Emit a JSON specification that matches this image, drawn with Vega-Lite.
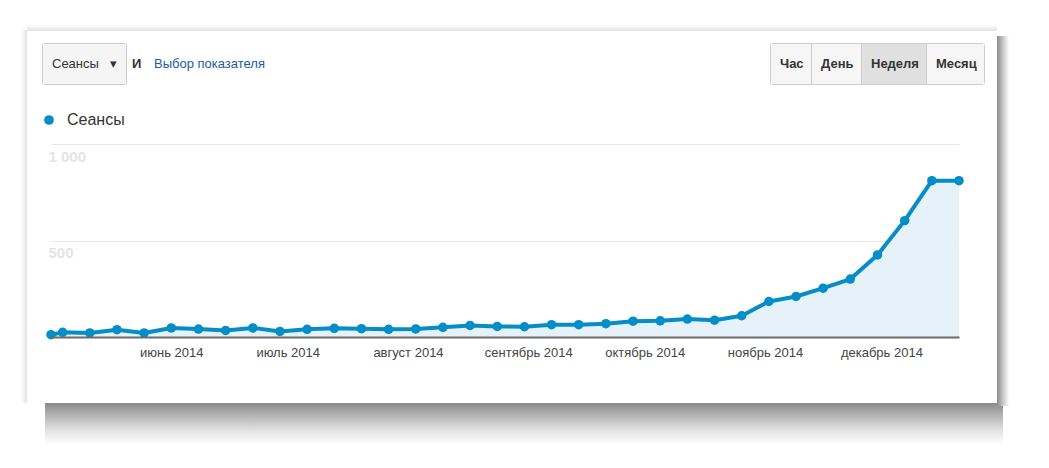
{
  "$schema": "https://vega.github.io/schema/vega-lite/v6.json",
  "width": 908,
  "height": 193,
  "autosize": {"type": "none"},
  "padding": {"left": 51, "top": 144, "right": 90, "bottom": 131},
  "background": "#ffffff",
  "config": {"view": {"stroke": null}, "font": "Liberation Sans"},
  "resolve": {
    "scale": {"color": "independent", "shape": "independent"},
    "legend": {"color": "independent", "shape": "independent"}
  },
  "layer": [
    {
      "data": {"values": [
        {"date": "2014-05-01", "sessions": 12},
        {"date": "2014-05-04", "sessions": 24},
        {"date": "2014-05-11", "sessions": 21},
        {"date": "2014-05-18", "sessions": 38},
        {"date": "2014-05-25", "sessions": 21},
        {"date": "2014-06-01", "sessions": 47},
        {"date": "2014-06-08", "sessions": 41},
        {"date": "2014-06-15", "sessions": 34},
        {"date": "2014-06-22", "sessions": 47},
        {"date": "2014-06-29", "sessions": 29},
        {"date": "2014-07-06", "sessions": 40},
        {"date": "2014-07-13", "sessions": 45},
        {"date": "2014-07-20", "sessions": 43},
        {"date": "2014-07-27", "sessions": 40},
        {"date": "2014-08-03", "sessions": 42},
        {"date": "2014-08-10", "sessions": 50},
        {"date": "2014-08-17", "sessions": 60},
        {"date": "2014-08-24", "sessions": 55},
        {"date": "2014-08-31", "sessions": 53},
        {"date": "2014-09-07", "sessions": 64},
        {"date": "2014-09-14", "sessions": 64},
        {"date": "2014-09-21", "sessions": 69},
        {"date": "2014-09-28", "sessions": 82},
        {"date": "2014-10-05", "sessions": 84},
        {"date": "2014-10-12", "sessions": 93},
        {"date": "2014-10-19", "sessions": 87},
        {"date": "2014-10-26", "sessions": 110},
        {"date": "2014-11-02", "sessions": 184},
        {"date": "2014-11-09", "sessions": 210},
        {"date": "2014-11-16", "sessions": 253},
        {"date": "2014-11-23", "sessions": 300},
        {"date": "2014-11-30", "sessions": 425},
        {"date": "2014-12-07", "sessions": 603},
        {"date": "2014-12-14", "sessions": 810},
        {"date": "2014-12-21", "sessions": 810}
      ]},
      "encoding": {
        "x": {
          "field": "date",
          "type": "temporal",
          "scale": {"type": "utc", "domain": [{"year": 2014, "month": 5, "date": 1, "utc": true}, {"year": 2014, "month": 12, "date": 21, "utc": true}]},
          "axis": {
            "title": null,
            "values": [
              {"year": 2014, "month": 6, "date": 1, "utc": true},
              {"year": 2014, "month": 7, "date": 1, "utc": true},
              {"year": 2014, "month": 8, "date": 1, "utc": true},
              {"year": 2014, "month": 9, "date": 1, "utc": true},
              {"year": 2014, "month": 10, "date": 1, "utc": true},
              {"year": 2014, "month": 11, "date": 1, "utc": true},
              {"year": 2014, "month": 12, "date": 1, "utc": true}
            ],
            "labelExpr": "['январь','февраль','март','апрель','май','июнь','июль','август','сентябрь','октябрь','ноябрь','декабрь'][utcmonth(datum.value)] + ' ' + utcyear(datum.value)",
            "grid": false,
            "ticks": false,
            "tickSize": 0,
            "domainColor": "#6b6b6b",
            "domainWidth": 2,
            "labelFont": "Liberation Sans",
            "labelFontSize": 13,
            "labelColor": "#444444",
            "labelPadding": 9,
            "labelFlush": false,
            "labelOverlap": false,
            "zindex": 1
          }
        },
        "y": {
          "field": "sessions",
          "type": "quantitative",
          "scale": {"domain": [0, 1000], "nice": false},
          "axis": {
            "title": null,
            "values": [500, 1000],
            "labelExpr": "replace(format(datum.value, ',d'), ',', ' ')",
            "domain": false,
            "ticks": false,
            "tickSize": 0,
            "grid": true,
            "gridColor": "#e8e8e8",
            "gridWidth": 1,
            "labelAlign": "left",
            "labelBaseline": "middle",
            "labelPadding": 3,
            "labelOffset": 12,
            "labelFont": "Liberation Sans",
            "labelFontSize": 15,
            "labelFontWeight": "bold",
            "labelColor": "#e4e4e4"
          }
        }
      },
      "layer": [
        {"mark": {"type": "area", "color": "#e6f2fa", "opacity": 1}},
        {"mark": {"type": "line", "color": "#058dc7", "strokeWidth": 4, "strokeJoin": "round"}},
        {
          "mark": {"type": "point", "filled": true, "size": 90, "opacity": 1},
          "encoding": {
            "color": {
              "datum": "Сеансы",
              "type": "nominal",
              "scale": {"range": ["#058dc7"]},
              "legend": {
                "orient": "none",
                "legendX": -10,
                "legendY": -32,
                "title": null,
                "padding": 0,
                "symbolType": "circle",
                "symbolSize": 95,
                "symbolStrokeWidth": 0,
                "labelFont": "Liberation Sans",
                "labelFontSize": 16,
                "labelColor": "#333333",
                "labelOffset": 10
              }
            }
          }
        }
      ]
    },
    {
      "data": {"values": [{"period": "Час"}, {"period": "День"}, {"period": "Неделя"}, {"period": "Месяц"}]},
      "transform": [{"filter": "false"}],
      "mark": {"type": "point", "filled": true, "opacity": 1},
      "encoding": {
        "color": {
          "field": "period",
          "type": "nominal",
          "scale": {"domain": ["Час", "День", "Неделя", "Месяц"], "range": ["#f6f6f6", "#f6f6f6", "#e0e0e0", "#f6f6f6"]},
          "legend": {
            "orient": "none", "legendX": 719, "legendY": -101, "title": null, "padding": 1,
            "fillColor": "#cccccc", "cornerRadius": 3,
            "direction": "horizontal", "columns": 4, "columnPadding": 1,
            "symbolSize": 1600, "symbolStrokeWidth": 0, "symbolOpacity": 1,
            "labelFont": "Liberation Sans", "labelFontSize": 13, "labelFontWeight": "bold", "labelColor": "#333333",
            "labelAlign": "left", "labelBaseline": "middle", "labelOffset": -31
          }
        },
        "shape": {
          "field": "period",
          "type": "nominal",
          "scale": {"domain": ["Час", "День", "Неделя", "Месяц"], "range": ["M-1,-1H1V1H-1Z", "M-1,-1H1.45V1H-1Z", "M-1,-1H2.2V1H-1Z", "M-1,-1H1.85V1H-1Z"]},
          "legend": {
            "orient": "none", "legendX": 719, "legendY": -101, "title": null, "padding": 1,
            "fillColor": "#cccccc", "cornerRadius": 3,
            "direction": "horizontal", "columns": 4, "columnPadding": 1,
            "symbolSize": 1600, "symbolStrokeWidth": 0, "symbolOpacity": 1,
            "labelFont": "Liberation Sans", "labelFontSize": 13, "labelFontWeight": "bold", "labelColor": "#333333",
            "labelAlign": "left", "labelBaseline": "middle", "labelOffset": -31
          }
        }
      }
    },
    {
      "data": {"values": [{"ctrl": "Сеансы\u00a0\u00a0\u00a0▾"}]},
      "transform": [{"filter": "false"}],
      "mark": {"type": "point", "filled": true, "opacity": 1, "fill": "#f5f5f5"},
      "encoding": {
        "shape": {
          "field": "ctrl",
          "type": "nominal",
          "scale": {"domain": ["Сеансы\u00a0\u00a0\u00a0▾"], "range": ["M-1,-1H3.15V1H-1Z"]},
          "legend": {
            "orient": "none", "legendX": -9, "legendY": -101, "title": null, "padding": 1,
            "fillColor": "#cccccc", "cornerRadius": 3,
            "symbolSize": 1600, "symbolStrokeWidth": 0, "symbolFillColor": "#f5f5f5", "symbolOpacity": 1,
            "labelFont": "Liberation Sans", "labelFontSize": 13, "labelColor": "#333333",
            "labelAlign": "left", "labelBaseline": "middle", "labelOffset": -31
          }
        }
      }
    },
    {
      "data": {"values": [{"word": "И"}]},
      "transform": [{"filter": "false"}],
      "mark": {"type": "point", "filled": true, "opacity": 1},
      "encoding": {
        "color": {
          "field": "word",
          "type": "nominal",
          "scale": {"domain": ["И"], "range": ["#333333"]},
          "legend": {
            "orient": "none", "legendX": 81, "legendY": -87, "title": null, "padding": 0,
            "symbolSize": 0, "symbolStrokeWidth": 0, "symbolOpacity": 0,
            "labelFont": "Liberation Sans", "labelFontSize": 13, "labelFontWeight": "bold", "labelColor": "#333333",
            "labelAlign": "left", "labelBaseline": "middle", "labelOffset": -13
          }
        }
      }
    },
    {
      "data": {"values": [{"link": "Выбор показателя"}]},
      "transform": [{"filter": "false"}],
      "mark": {"type": "point", "filled": true, "opacity": 1},
      "encoding": {
        "shape": {
          "field": "link",
          "type": "nominal",
          "scale": {"domain": ["Выбор показателя"]},
          "legend": {
            "orient": "none", "legendX": 103, "legendY": -87, "title": null, "padding": 0,
            "symbolSize": 0, "symbolStrokeWidth": 0, "symbolOpacity": 0,
            "labelFont": "Liberation Sans", "labelFontSize": 13, "labelColor": "#1d5c9c",
            "labelAlign": "left", "labelBaseline": "middle", "labelOffset": -13
          }
        }
      }
    },
    {
      "data": {"values": [{"shadow": "bottom"}]},
      "transform": [{"filter": "false"}],
      "mark": {"type": "point", "filled": true, "opacity": 1},
      "encoding": {
        "shape": {
          "field": "shadow",
          "type": "nominal",
          "scale": {"domain": ["bottom"], "range": ["M-1.05,-1.05H94.75V3.15H-1.05Z"]},
          "legend": {
            "orient": "none", "legendX": -6, "legendY": 259, "title": null, "padding": 0,
            "symbolSize": 400, "symbolStrokeWidth": 0, "symbolOpacity": 0,
            "labelExpr": "''", "labelOffset": -10.5,
            "fillColor": {"expr": "{gradient: 'linear', x1: 0, y1: 0, x2: 0, y2: 1, stops: [{offset: 0, color: '#8a8a8a'}, {offset: 0.3, color: '#b4b4b4'}, {offset: 0.65, color: '#e2e2e2'}, {offset: 1, color: '#ffffff'}]}"}
          }
        }
      }
    },
    {
      "data": {"values": [{"shadow": "right"}]},
      "transform": [{"filter": "false"}],
      "mark": {"type": "point", "filled": true, "opacity": 1},
      "encoding": {
        "shape": {
          "field": "shadow",
          "type": "nominal",
          "scale": {"domain": ["right"], "range": ["M-1.05,-1.05H0.15V35.95H-1.05Z"]},
          "legend": {
            "orient": "none", "legendX": 946, "legendY": -108, "title": null, "padding": 0,
            "symbolSize": 400, "symbolStrokeWidth": 0, "symbolOpacity": 0,
            "labelExpr": "''", "labelOffset": -10.5,
            "fillColor": {"expr": "{gradient: 'linear', x1: 0, y1: 0, x2: 1, y2: 0, stops: [{offset: 0, color: '#8a8a8a'}, {offset: 0.5, color: '#c8c8c8'}, {offset: 1, color: '#ffffff'}]}"}
          }
        }
      }
    },
    {
      "data": {"values": [{"shadow": "top"}]},
      "transform": [{"filter": "false"}],
      "mark": {"type": "point", "filled": true, "opacity": 1},
      "encoding": {
        "shape": {
          "field": "shadow",
          "type": "nominal",
          "scale": {"domain": ["top"], "range": ["M-1,-1H1939V11H-1Z"]},
          "legend": {
            "orient": "none", "legendX": -24, "legendY": -119, "title": null, "padding": 0,
            "symbolSize": 1, "symbolStrokeWidth": 0, "symbolOpacity": 0,
            "labelExpr": "''", "labelFontSize": 1, "labelOffset": -1,
            "fillColor": {"expr": "{gradient: 'linear', x1: 0, y1: 0, x2: 0, y2: 1, stops: [{offset: 0, color: '#ffffff'}, {offset: 1, color: '#e2e2e2'}]}"}
          }
        }
      }
    },
    {
      "data": {"values": [{"shadow": "left"}]},
      "transform": [{"filter": "false"}],
      "mark": {"type": "point", "filled": true, "opacity": 1},
      "encoding": {
        "shape": {
          "field": "shadow",
          "type": "nominal",
          "scale": {"domain": ["left"], "range": ["M-1,-1H11V745H-1Z"]},
          "legend": {
            "orient": "none", "legendX": -30, "legendY": -114, "title": null, "padding": 0,
            "symbolSize": 1, "symbolStrokeWidth": 0, "symbolOpacity": 0,
            "labelExpr": "''", "labelFontSize": 1, "labelOffset": -1,
            "fillColor": {"expr": "{gradient: 'linear', x1: 0, y1: 0, x2: 1, y2: 0, stops: [{offset: 0, color: '#ffffff'}, {offset: 1, color: '#e2e2e2'}]}"}
          }
        }
      }
    }
  ]
}
